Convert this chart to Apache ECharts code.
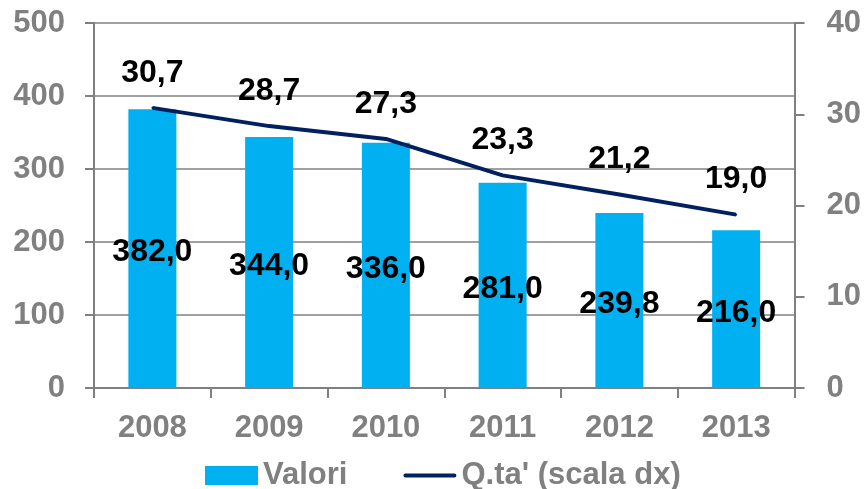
<!DOCTYPE html>
<html>
<head>
<meta charset="utf-8">
<script src="https://cdn.jsdelivr.net/npm/echarts@6/dist/echarts.min.js"></script>
<style>
  html, body { margin: 0; padding: 0; background: #fff; }
  #chart { width: 864px; height: 489px; }
</style>
</head>
<body>
<div id="chart"></div>
<script>
// dati
var anni = ['2008', '2009', '2010', '2011', '2012', '2013'];
var valori = [382.0, 344.0, 336.0, 281.0, 239.8, 216.0];
var quota = [30.7, 28.7, 27.3, 23.3, 21.2, 19.0];
var nomiSerie = ['Valori', "Q.ta' (scala dx)"];

var grigio = '#808080';
var blu = '#002060';
var font = 'Liberation Sans, Arial, sans-serif';

function fmt(v) {
  return v.toFixed(1).replace('.', ',');
}

// icona legenda: linea spessa centrata, box pieno 53x19
var iconaLinea = 'path://M0,0 L0.05,0 L0,0.05 Z M2,7.5 L51,7.5 A2,2 0 0 1 51,11.5 L2,11.5 A2,2 0 0 1 2,7.5 Z M52.95,19 L53,19 L53,18.95 Z';

var chart = echarts.init(document.getElementById('chart'), null, { renderer: 'canvas' });

var option = {
  animation: false,
  grid: { left: 94, right: 69, top: 23, bottom: 101 },
  legend: {
    left: 200,
    top: 455,
    itemWidth: 53,
    itemHeight: 19,
    itemGap: 56,
    textStyle: { color: grigio, fontSize: 31, fontWeight: 'bold', fontFamily: font },
    data: [
      { name: nomiSerie[0], icon: 'rect' },
      { name: nomiSerie[1], icon: iconaLinea, itemStyle: { color: blu } }
    ]
  },
  xAxis: {
    type: 'category',
    data: anni,
    axisLine: { lineStyle: { color: grigio, width: 2 } },
    axisTick: { show: true, length: 10, lineStyle: { color: grigio, width: 2 } },
    axisLabel: { color: grigio, fontSize: 31, fontWeight: 'bold', fontFamily: font, margin: 25 }
  },
  yAxis: [
    {
      type: 'value',
      min: 0, max: 500, interval: 100,
      axisLine: { show: true, lineStyle: { color: grigio, width: 2 } },
      axisTick: { show: true, length: 9, lineStyle: { color: grigio, width: 2 } },
      axisLabel: { color: grigio, fontSize: 31, fontWeight: 'bold', fontFamily: font, margin: 29 },
      splitLine: { lineStyle: { color: '#a0a0a0', width: 2 } }
    },
    {
      type: 'value',
      min: 0, max: 40, interval: 10,
      axisLine: { show: true, lineStyle: { color: grigio, width: 2 } },
      axisTick: { show: true, length: 10, lineStyle: { color: grigio, width: 2 } },
      axisLabel: { color: grigio, fontSize: 31, fontWeight: 'bold', fontFamily: font, margin: 32 },
      splitLine: { show: false }
    }
  ],
  series: [
    {
      name: nomiSerie[0],
      type: 'bar',
      data: valori,
      barWidth: 48,
      itemStyle: { color: '#00B0F0' },
      label: {
        show: true,
        position: 'inside',
        offset: [0, 4],
        color: '#000',
        fontSize: 32,
        fontWeight: 'bold',
        fontFamily: font,
        formatter: function (p) { return fmt(p.value); }
      }
    },
    {
      name: nomiSerie[1],
      type: 'line',
      yAxisIndex: 1,
      data: quota,
      symbol: 'circle',
      symbolSize: 2,
      showSymbol: true,
      lineStyle: { color: blu, width: 4 },
      itemStyle: { color: blu },
      label: {
        show: true,
        position: 'top',
        distance: 18,
        color: '#000',
        fontSize: 32,
        fontWeight: 'bold',
        fontFamily: font,
        formatter: function (p) { return fmt(p.value); }
      }
    }
  ]
};

chart.setOption(option);
</script>
</body>
</html>
